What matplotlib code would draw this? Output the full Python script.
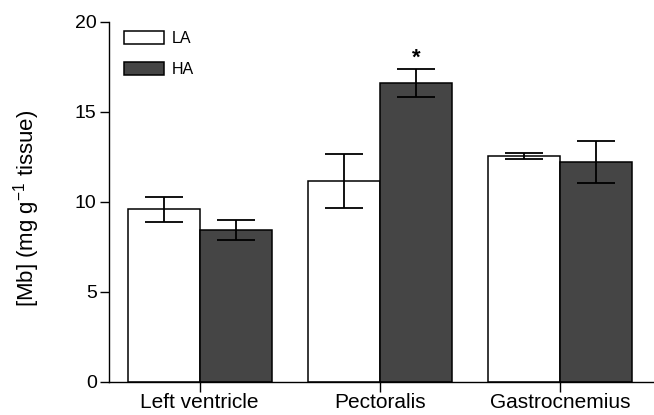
import numpy as np
import matplotlib
matplotlib.use('Agg')
import matplotlib.pyplot as plt

plt.rcParams['font.family'] = ['Liberation Sans', 'DejaVu Sans']
plt.rcParams['mathtext.fontset'] = 'custom'
plt.rcParams['mathtext.rm'] = 'Liberation Sans'
plt.rcParams['mathtext.it'] = 'Liberation Sans:italic'

## Mb concentration per tissue (mean, error)
tissues = ['Left ventricle', 'Pectoralis', 'Gastrocnemius']
la_mean = [9.58, 11.16, 12.55]
la_err = [0.69, 1.52, 0.18]
ha_mean = [8.43, 16.63, 12.23]
ha_err = [0.56, 0.78, 1.17]
signif = [False, True, False]   # HA vs LA

x = np.arange(len(tissues))
w = 0.4

fig = plt.figure(figsize=(6.54, 4.15), dpi=100)
ax = fig.add_axes([0.1674, 0.0807, 0.8326, 0.8663])

ax.bar(x - w/2, la_mean, w, color='white', edgecolor='black', linewidth=1.1, label='LA')
ax.bar(x + w/2, ha_mean, w, color='#454545', edgecolor='black', linewidth=1.1, label='HA')
ax.errorbar(x - w/2, la_mean, yerr=la_err, fmt='none', ecolor='black', elinewidth=1.3, capsize=13.5, capthick=1.3)
ax.errorbar(x + w/2, ha_mean, yerr=ha_err, fmt='none', ecolor='black', elinewidth=1.3, capsize=13.5, capthick=1.3)

for i in range(len(tissues)):
    if signif[i]:
        ax.text(x[i] + w/2, ha_mean[i] + ha_err[i] + 0.25, '*', ha='center', va='baseline',
                fontsize=16, fontweight='bold')

ax.set_xlim(-0.5, 2.52)
ax.set_ylim(0, 20)
ax.set_yticks([0, 5, 10, 15, 20])
ax.set_xticks(x)
ax.set_xticklabels(tissues, fontsize=15)
ax.tick_params(axis='y', labelsize=14, length=6.7, width=1, pad=2.5)
ax.tick_params(axis='x', length=7, width=1, pad=1.5)
for s in ['top', 'right']:
    ax.spines[s].set_visible(False)
for s in ['left', 'bottom']:
    ax.spines[s].set_linewidth(1)

ax.set_ylabel('[Mb] (mg g$^{-1}$ tissue)', fontsize=16, va='center')
ax.yaxis.set_label_coords(-0.1515, 0.4826)

ax.legend(loc='upper left', bbox_to_anchor=(0.0266, 0.975), frameon=False, fontsize=11.5,
          handlelength=2.5, handleheight=0.88, handletextpad=0.5, labelspacing=1.0,
          borderpad=0, borderaxespad=0)

plt.savefig('out.png', dpi=100)
